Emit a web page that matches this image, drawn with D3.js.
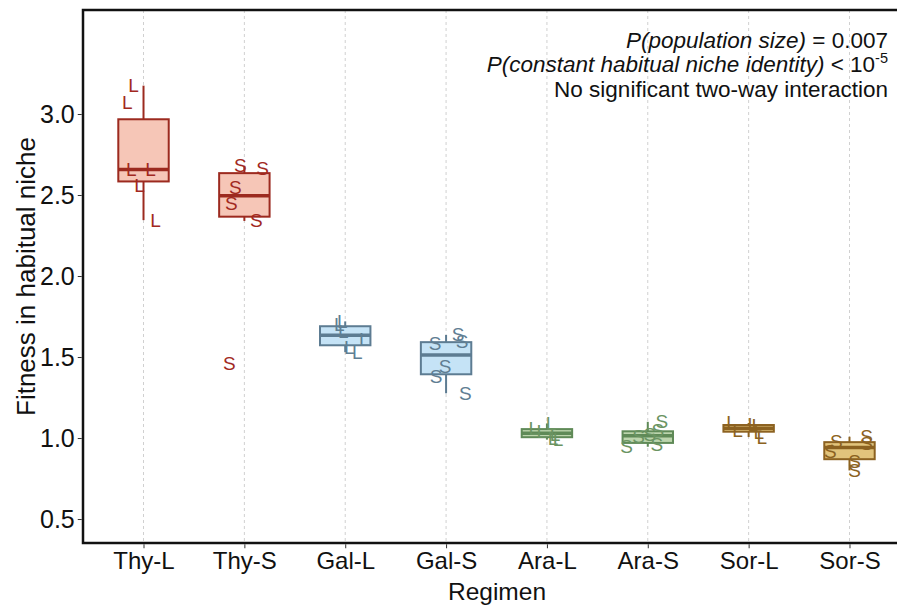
<!DOCTYPE html>
<html>
<head>
<meta charset="utf-8">
<script src="https://cdn.jsdelivr.net/npm/d3@7"></script>
<style>
  html, body { margin: 0; padding: 0; background: #fff; }
  svg { display: block; font-family: "Liberation Sans", Arial, Helvetica, sans-serif; }
</style>
</head>
<body>
<svg id="chart" width="897" height="608"></svg>
<script>
// Regimens (niche + population size: L = large, S = small)
const regimens = ["Thy-L", "Thy-S", "Gal-L", "Gal-S", "Ara-L", "Ara-S", "Sor-L", "Sor-S"];

// Fitness of each replicate population in its habitual niche
const fitThyL = [3.175, 3.07, 2.66, 2.655, 2.56, 2.345];
const fitThyS = [2.68, 2.665, 2.545, 2.445, 2.34, 1.463];
const fitGalL = [1.72, 1.70, 1.66, 1.61, 1.56, 1.53];
const fitGalS = [1.636, 1.594, 1.585, 1.44, 1.378, 1.276];
const fitAraL = [1.09, 1.06, 1.04, 1.02, 1.00, 0.99];
const fitAraS = [1.10, 1.049, 1.019, 1.008, 0.957, 0.946];
const fitSorL = [1.093, 1.082, 1.075, 1.045, 1.037, 1.006];
const fitSorS = [1.008, 0.977, 0.967, 0.915, 0.854, 0.80];

// Horizontal jitter of each replicate label, in category units
const jitThyL = [-0.10, -0.16, 0.07, -0.12, -0.04, 0.12];
const jitThyS = [-0.04, 0.18, -0.09, -0.13, 0.12, -0.15];
const jitGalL = [-0.03, -0.06, -0.02, 0.19, 0.04, 0.12];
const jitGalS = [0.12, 0.16, -0.11, -0.01, -0.10, 0.19];
const jitAraL = [0.04, -0.13, -0.05, 0.08, 0.06, 0.11];
const jitAraS = [0.14, 0.10, 0.02, -0.09, 0.09, -0.21];
const jitSorL = [-0.17, 0.04, 0.08, -0.11, 0.10, 0.13];
const jitSorS = [0.17, -0.13, 0.17, -0.19, 0.05, 0.05];

const yTicks = [0.5, 1.0, 1.5, 2.0, 2.5, 3.0];

const fitness = [fitThyL, fitThyS, fitGalL, fitGalS, fitAraL, fitAraS, fitSorL, fitSorS];
const jitter  = [jitThyL, jitThyS, jitGalL, jitGalS, jitAraL, jitAraS, jitSorL, jitSorS];

// Palette per niche
const nichePalette = {
  Thy: { stroke: "#9c2a1f", fill: "#f6c6b7", text: "#a2291f" },
  Gal: { stroke: "#5d7c92", fill: "#c5e3f6", text: "#5f7e93" },
  Ara: { stroke: "#5f8a57", fill: "#bcd5ad", text: "#6a9462" },
  Sor: { stroke: "#8c6221", fill: "#e2c47c", text: "#8c6221" }
};

const svg = d3.select("#chart");
const W = 897, H = 608;
const panel = { left: 83, top: 10, right: 910, bottom: 543 };
const ink = "#111";

svg.append("rect").attr("width", W).attr("height", H).attr("fill", "#fff");

const x = d3.scalePoint()
  .domain(regimens)
  .range([panel.left, panel.right])
  .padding(0.6);

const y = d3.scaleLinear()
  .domain([0.352, 3.642])
  .range([panel.bottom, panel.top]);

// Vertical dashed grid at each regimen
svg.append("g")
  .selectAll("line")
  .data(regimens)
  .join("line")
  .attr("x1", d => x(d)).attr("x2", d => x(d))
  .attr("y1", panel.top).attr("y2", panel.bottom)
  .attr("stroke", "#d0d0d0")
  .attr("stroke-width", 1)
  .attr("stroke-dasharray", "3,3");

// Box-plot summaries (Tukey whiskers, R type-7 quantiles)
const stats = regimens.map((r, i) => {
  const s = fitness[i].slice().sort(d3.ascending);
  const q1 = d3.quantileSorted(s, 0.25);
  const med = d3.quantileSorted(s, 0.5);
  const q3 = d3.quantileSorted(s, 0.75);
  const iqr = q3 - q1;
  const lo = d3.min(s.filter(v => v >= q1 - 1.5 * iqr));
  const hi = d3.max(s.filter(v => v <= q3 + 1.5 * iqr));
  return { r, niche: r.slice(0, 3), size: r.slice(4), q1, med, q3, lo, hi };
});

const halfW = x.step() * 0.25;
const boxes = svg.append("g").selectAll("g").data(stats).join("g");

boxes.append("line")
  .attr("x1", d => x(d.r)).attr("x2", d => x(d.r))
  .attr("y1", d => y(d.hi)).attr("y2", d => y(d.q3))
  .attr("stroke", d => nichePalette[d.niche].stroke).attr("stroke-width", 2);
boxes.append("line")
  .attr("x1", d => x(d.r)).attr("x2", d => x(d.r))
  .attr("y1", d => y(d.q1)).attr("y2", d => y(d.lo))
  .attr("stroke", d => nichePalette[d.niche].stroke).attr("stroke-width", 2);
boxes.append("rect")
  .attr("x", d => x(d.r) - halfW)
  .attr("width", halfW * 2)
  .attr("y", d => y(d.q3))
  .attr("height", d => y(d.q1) - y(d.q3))
  .attr("fill", d => nichePalette[d.niche].fill)
  .attr("stroke", d => nichePalette[d.niche].stroke)
  .attr("stroke-width", 2);
boxes.append("line")
  .attr("x1", d => x(d.r) - halfW).attr("x2", d => x(d.r) + halfW)
  .attr("y1", d => y(d.med)).attr("y2", d => y(d.med))
  .attr("stroke", d => nichePalette[d.niche].stroke).attr("stroke-width", 3.5);

// Replicate labels (L / S)
const pts = [];
regimens.forEach((r, i) => {
  fitness[i].forEach((v, j) => pts.push({ r, v, j: jitter[i][j], niche: r.slice(0, 3), size: r.slice(4) }));
});
svg.append("g")
  .selectAll("text")
  .data(pts)
  .join("text")
  .attr("x", d => x(d.r) + d.j * x.step())
  .attr("y", d => y(d.v))
  .attr("text-anchor", "middle")
  .attr("dominant-baseline", "central")
  .attr("font-size", 19)
  .attr("fill", d => nichePalette[d.niche].text)
  .text(d => d.size);

// Panel border
svg.append("rect")
  .attr("x", panel.left).attr("y", panel.top)
  .attr("width", panel.right - panel.left)
  .attr("height", panel.bottom - panel.top)
  .attr("fill", "none")
  .attr("stroke", ink)
  .attr("stroke-width", 2.5);

// Axes
const yAxis = svg.append("g")
  .attr("transform", `translate(${panel.left - 1.25},0)`)
  .call(d3.axisLeft(y).tickValues(yTicks).tickFormat(d3.format(".1f")).tickSize(4).tickPadding(3));
const xAxis = svg.append("g")
  .attr("transform", `translate(0,${panel.bottom + 1.25})`)
  .call(d3.axisBottom(x).tickSize(4).tickPadding(4));
[yAxis, xAxis].forEach(a => {
  a.select(".domain").remove();
  a.selectAll(".tick line").attr("stroke", "#333").attr("stroke-width", 1);
  a.selectAll(".tick text").attr("fill", ink)
    .attr("font-family", "\"Liberation Sans\", Arial, sans-serif");
});
yAxis.selectAll(".tick text").attr("font-size", 25);
xAxis.selectAll(".tick text").attr("font-size", 24);

// Axis titles
svg.append("text")
  .attr("transform", `translate(35,${(panel.top + panel.bottom) / 2}) rotate(-90)`)
  .attr("text-anchor", "middle")
  .attr("font-size", 26)
  .attr("fill", ink)
  .text("Fitness in habitual niche");
svg.append("text")
  .attr("x", 497).attr("y", 600)
  .attr("text-anchor", "middle")
  .attr("font-size", 24.5)
  .attr("fill", ink)
  .text("Regimen");

// Statistical annotation
const note = svg.append("g").attr("font-size", 22.5).attr("fill", ink);
const l1 = note.append("text").attr("x", 888).attr("y", 48).attr("text-anchor", "end");
l1.append("tspan").attr("font-style", "italic").text("P(population size)");
l1.append("tspan").text(" = 0.007");
const l2 = note.append("text").attr("x", 888).attr("y", 72).attr("text-anchor", "end");
l2.append("tspan").attr("font-style", "italic").text("P(constant habitual niche identity)");
l2.append("tspan").text(" < 10");
l2.append("tspan").attr("font-size", 14.5).attr("dy", -9).text("-5");
note.append("text").attr("x", 888).attr("y", 97).attr("text-anchor", "end")
  .text("No significant two-way interaction");
</script>
</body>
</html>
